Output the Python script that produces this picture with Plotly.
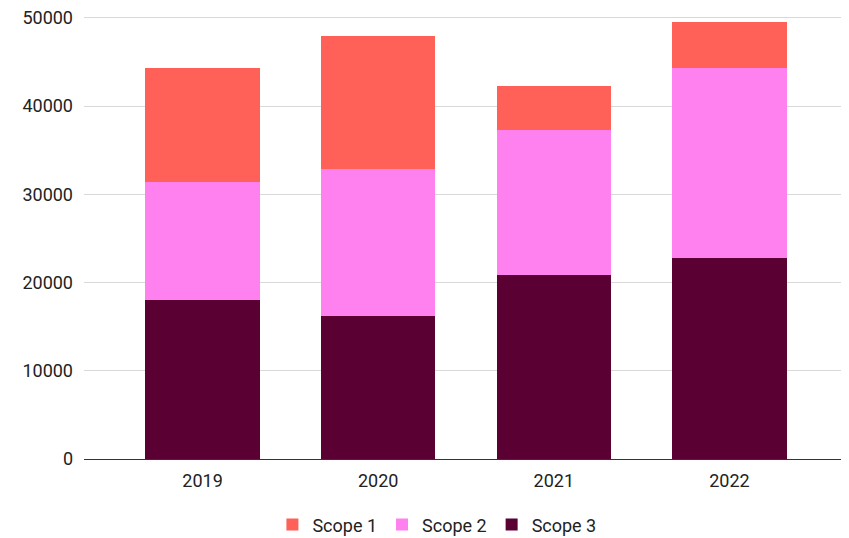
import plotly.graph_objects as go

years = ["2019", "2020", "2021", "2022"]
scope1 = [12890, 15000, 5020, 5140]
scope2 = [13380, 16740, 16400, 21510]
scope3 = [18060, 16170, 20900, 22820]
y_ticks = [0, 10000, 20000, 30000, 40000, 50000]

colors = {"Scope 1": "#FF6159", "Scope 2": "#FF80EF", "Scope 3": "#5B0032"}

fig = go.Figure()
for name, vals in [("Scope 3", scope3), ("Scope 2", scope2), ("Scope 1", scope1)]:
    fig.add_trace(go.Bar(x=years, y=vals, name=name,
                         marker=dict(color=colors[name], line=dict(width=0))))

fig.update_layout(
    width=841, height=530,
    barmode="stack", bargap=0.35,
    paper_bgcolor="white", plot_bgcolor="white",
    margin=dict(l=76, r=1, t=8, b=79, autoexpand=False),
    font=dict(family="Roboto", size=18, color="#222222"),
    legend=dict(orientation="h", xref="container", x=0.51, xanchor="center",
                yref="paper", y=-0.107, yanchor="top",
                traceorder="reversed", font=dict(size=18, color="#222222"),
                itemwidth=30),
    xaxis=dict(range=[-0.675, 3.675], showgrid=False, showline=True,
               linecolor="#333333", linewidth=1, ticks="", ticklabelstandoff=5,
               automargin=False),
    yaxis=dict(range=[0, 50200], tickvals=y_ticks, ticktext=[str(v) for v in y_ticks],
               showgrid=True, gridcolor="#d9d9d9", gridwidth=1,
               zeroline=True, zerolinecolor="#333333", zerolinewidth=1,
               ticks="", ticklabelstandoff=10, automargin=False,
               ticklabeloverflow="allow"),
    showlegend=True,
)

fig.write_html("out.html")
